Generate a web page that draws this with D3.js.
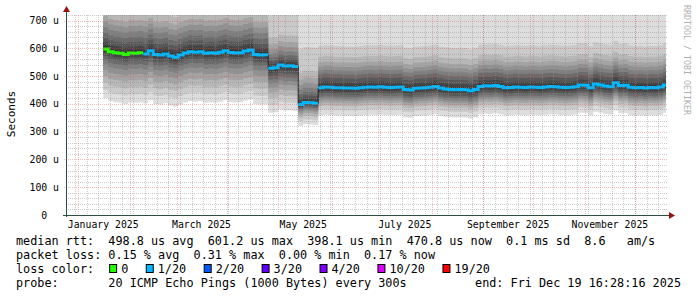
<!DOCTYPE html>
<html>
<head>
<meta charset="utf-8">
<script src="https://cdn.jsdelivr.net/npm/d3@7"></script>
<style>
  html, body { margin: 0; padding: 0; background: #fff; }
  svg { display: block; }
  text { font-family: "DejaVu Sans Mono", monospace; white-space: pre; }
</style>
</head>
<body>
<svg id="smoke" width="697" height="297"></svg>
<script>
// rrd samples, one every 3 days starting here
const sampleStart = '2025-01-16';
const sampleStepDays = 3;

// median rtt per sample, in microseconds
const medianUs = [
  598, 588, 584, 582, 578, 583, 582, 584, 580, 591, 578, 576, 580, 572, 568, 576,
  583, 588, 586, 588, 582, 584, 582, 586, 591, 585, 583, 584, 590, 594, 578, 576, 577,
  528, 530, 540, 536, 537, 535,
  398, 405, 404, 402,
  458, 461, 460, 458, 458, 457, 457, 456, 458, 460, 461, 460, 462, 460, 459, 460,
  461, 452, 450, 456, 457, 458, 460, 463, 457, 454, 452, 451, 452, 451, 447, 452,
  463, 465, 464, 466, 463, 458, 459, 461, 460, 459, 461, 460, 459, 461, 463, 462,
  460, 459, 460, 462, 468, 467, 458, 472, 468, 464, 462, 476, 466, 467, 460, 458,
  459, 457, 459, 458, 461, 468
];

// packet loss (%) from these dates on
const lossDates = ['2025-01-16', '2025-02-09'];
const lossPct = [0, 0.17];

// smoke: spread of the sorted pings around the median, per period (us)
const periodStarts = ['2025-01-16', '2025-04-24', '2025-05-12', '2025-05-24'];
const smokeBelow = [
  [178, 148, 122, 98, 76, 56, 40, 26, 15, 6],
  [160, 132, 108, 88, 70, 55, 41, 28, 16, 6],
  [78, 60, 48, 38, 30, 23, 17, 11, 7, 3],
  [100, 80, 66, 56, 47, 39, 31, 23, 14, 6]
];
const smokeAbove = [
  [240, 170, 145, 118, 98, 78, 58, 40, 24, 10],
  [260, 190, 110, 86, 68, 52, 38, 26, 15, 6],
  [330, 200, 115, 90, 70, 53, 38, 26, 15, 6],
  [300, 150, 112, 92, 76, 62, 48, 34, 20, 8]
];

const yTicks = [0, 100, 200, 300, 400, 500, 600, 700];
const monthLabels = ['January 2025', 'March 2025', 'May 2025', 'July 2025', 'September 2025', 'November 2025'];
const monthLabelDates = ['2025-01-16', '2025-03-16', '2025-05-16', '2025-07-16', '2025-09-16', '2025-11-16'];

const lossNames = ['0', '1/20', '2/20', '3/20', '4/20', '10/20', '19/20'];
const lossColors = ['#26ff00', '#00b8ff', '#0059ff', '#5e00ff', '#7e00ff', '#dd00ff', '#ff0000'];
const lossLimits = [0, 5, 10, 15, 20, 50, 95];

const legendLines = [
  'median rtt:  498.8 us avg  601.2 us max  398.1 us min  470.8 us now  0.1 ms sd  8.6   am/s',
  'packet loss: 0.15 % avg  0.31 % max  0.00 % min  0.17 % now'
];
const probeText = 'probe:       20 ICMP Echo Pings (1000 Bytes) every 300s';
const endText = 'end: Fri Dec 19 16:28:16 2025';

const plotL = 66, plotR = 666, plotT = 15, plotB = 215;
const endTime = new Date('2025-12-19T16:28:16');
const startTime = d3.timeDay.offset(endTime, -360);

const svg = d3.select('#smoke');
const parse = d3.timeParse('%Y-%m-%d');

const x = d3.scaleTime().domain([startTime, endTime]).range([plotL, plotR]);
const y = d3.scaleLinear().domain([0, 720]).range([plotB, plotT]);

const t0 = parse(sampleStart);
const samples = medianUs.map((m, i) => {
  const date = d3.timeDay.offset(t0, i * sampleStepDays);
  const period = d3.bisectRight(periodStarts.map(parse), date) - 1;
  const loss = lossPct[d3.bisectRight(lossDates.map(parse), date) - 1];
  return {date, median: m, period, loss};
});
const lastDate = d3.timeDay.offset(samples[samples.length - 1].date, sampleStepDays);

svg.append('defs').append('clipPath').attr('id', 'plot')
  .append('rect').attr('x', plotL).attr('y', plotT).attr('width', plotR - plotL).attr('height', plotB - plotT);

const g = svg.append('g').attr('clip-path', 'url(#plot)');

// smoke layers, outermost (light) first
for (let k = 0; k < 10; k++) {
  const grey = Math.floor(190 / 10 * (10 - (k + 1))) + 50;
  const pts = samples.map(s => ({
    date: s.date,
    lo: s.median - smokeBelow[s.period][k],
    hi: s.median + smokeAbove[s.period][k]
  }));
  pts.push(Object.assign({}, pts[pts.length - 1], {date: lastDate}));
  const area = d3.area()
    .curve(d3.curveStepAfter)
    .x(d => x(d.date))
    .y0(d => y(d.lo))
    .y1(d => y(d.hi));
  g.append('path').attr('d', area(pts)).attr('fill', d3.rgb(grey, grey, grey));
}

// grid
const minorStroke = 'rgba(143,143,143,0.45)';
const majorStroke = 'rgba(222,80,80,0.38)';
const grid = svg.append('g');
d3.range(0, 721, 20).filter(v => v % 100 !== 0).forEach(v => {
  grid.append('line').attr('x1', plotL).attr('x2', plotR + 2).attr('y1', Math.round(y(v)) + 0.5).attr('y2', Math.round(y(v)) + 0.5)
    .attr('stroke', minorStroke).attr('stroke-dasharray', '1,1');
});
d3.timeMonday.range(startTime, endTime).forEach(d => {
  grid.append('line').attr('x1', Math.round(x(d)) + 0.5).attr('x2', Math.round(x(d)) + 0.5).attr('y1', plotT).attr('y2', plotB)
    .attr('stroke', minorStroke).attr('stroke-dasharray', '1,1');
});
yTicks.filter(v => v > 0).forEach(v => {
  grid.append('line').attr('x1', plotL - 2).attr('x2', plotR + 2).attr('y1', Math.round(y(v)) + 0.5).attr('y2', Math.round(y(v)) + 0.5)
    .attr('stroke', majorStroke).attr('stroke-dasharray', '1,1');
});
d3.timeMonth.range(startTime, endTime).forEach(d => {
  grid.append('line').attr('x1', Math.round(x(d)) + 0.5).attr('x2', Math.round(x(d)) + 0.5).attr('y1', plotT).attr('y2', plotB + 2)
    .attr('stroke', majorStroke).attr('stroke-dasharray', '1,1');
});

// median line: thin dark step underneath, loss-coloured thick on top
const medPts = samples.concat([Object.assign({}, samples[samples.length - 1], {date: lastDate})]);
const stepLine = d3.line().curve(d3.curveStepAfter).x(d => x(d.date)).y(d => y(d.median));
g.append('path').attr('d', stepLine(medPts)).attr('fill', 'none').attr('stroke', '#202020').attr('stroke-width', 1);

const lossColor = p => {
  let idx = 0;
  lossLimits.forEach((lim, i) => { if (p > 0 && p >= lim) idx = i; });
  if (p > 0 && idx === 0) idx = 1;
  return lossColors[idx];
};
const runs = [];
samples.forEach((s, i) => {
  const prev = samples[i - 1];
  const c = lossColor(s.loss);
  if (!prev || Math.abs(prev.median - s.median) > 30 || lossColor(prev.loss) !== c) runs.push({color: c, pts: []});
  runs[runs.length - 1].pts.push(s);
});
runs.forEach((r, i) => {
  const nextDate = i < runs.length - 1 ? runs[i + 1].pts[0].date : lastDate;
  const pts = r.pts.concat([Object.assign({}, r.pts[r.pts.length - 1], {date: nextDate})]);
  g.append('path').attr('d', stepLine(pts)).attr('fill', 'none')
    .attr('stroke', r.color).attr('stroke-width', 3).attr('stroke-linecap', 'butt');
});

// axes
const axisColor = '#2c4d43';
svg.append('line').attr('x1', plotL + 0.5).attr('x2', plotL + 0.5).attr('y1', plotB + 2).attr('y2', 10).attr('stroke', axisColor);
svg.append('line').attr('x1', plotL - 3).attr('x2', plotR + 4).attr('y1', plotB + 0.5).attr('y2', plotB + 0.5).attr('stroke', axisColor);
svg.append('path').attr('d', `M${plotL - 3},${12}L${plotL + 0.5},${6}L${plotL + 4},${12}Z`).attr('fill', '#9a1010');
svg.append('path').attr('d', `M${plotR + 3},${plotB - 3}L${plotR + 9},${plotB + 0.5}L${plotR + 3},${plotB + 4}Z`).attr('fill', '#9a1010');

// tick labels
svg.append('g').selectAll('text').data(yTicks).join('text')
  .attr('x', 59).attr('y', d => y(d) + 3.5)
  .attr('text-anchor', 'end').attr('font-size', 9.8).attr('fill', '#000')
  .text(d => d === 0 ? '0  ' : d + ' u');

svg.append('g').selectAll('text').data(monthLabels).join('text')
  .attr('x', (d, i) => x(parse(monthLabelDates[i]))).attr('y', 228)
  .attr('text-anchor', 'middle').attr('font-size', 9.8).attr('fill', '#000')
  .text(d => d);

svg.append('text').attr('transform', 'translate(15,114) rotate(-90)')
  .attr('text-anchor', 'middle').attr('font-size', 11).attr('fill', '#000').text('Seconds');

svg.append('text').attr('transform', 'translate(684,5) rotate(90)')
  .attr('font-size', 8.3).attr('fill', '#b0b0b0').text('RRDTOOL / TOBI OETIKER');

// legend
const legendX = 16, legendSize = 11.8;
legendLines.forEach((l, i) => {
  svg.append('text').attr('x', legendX).attr('y', 245 + i * 14).attr('font-size', legendSize).attr('fill', '#000').text(l);
});
const lossRow = svg.append('g');
const lossHead = lossRow.append('text').attr('x', legendX).attr('y', 273).attr('font-size', legendSize).attr('fill', '#000').text('loss color:');
let bx = legendX + lossHead.node().getComputedTextLength() + 15;
lossNames.forEach((n, i) => {
  lossRow.append('rect').attr('x', bx + 0.5).attr('y', 264.5).attr('width', 7).attr('height', 8)
    .attr('fill', lossColors[i]).attr('stroke', '#000').attr('stroke-width', 1);
  const t = lossRow.append('text').attr('x', bx + 12).attr('y', 273).attr('font-size', legendSize).attr('fill', '#000').text(n);
  bx = bx + 12 + t.node().getComputedTextLength() + 17.5;
});
svg.append('text').attr('x', legendX).attr('y', 287).attr('font-size', legendSize).attr('fill', '#000').text(probeText);
svg.append('text').attr('x', 681).attr('y', 287).attr('text-anchor', 'end').attr('font-size', legendSize).attr('fill', '#000').text(endText);
</script>
</body>
</html>
